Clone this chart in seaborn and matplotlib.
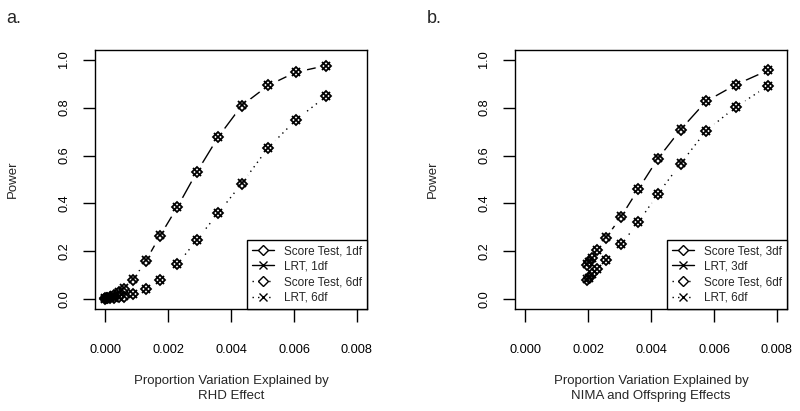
import matplotlib
matplotlib.use("Agg")
import matplotlib.pyplot as plt
import seaborn as sns
from matplotlib.lines import Line2D

sns.set_style("ticks")
plt.rcParams['font.family'] = ['Liberation Sans', 'DejaVu Sans']

# panel a: RHD effect
rhd_prop = [0.00001, 0.00007, 0.00015, 0.00027, 0.00043, 0.00060, 0.00090, 0.00130,
            0.00175, 0.00230, 0.00291, 0.00360, 0.00434, 0.00518, 0.00605, 0.00702]
rhd_score_1df = [0.005, 0.007, 0.010, 0.018, 0.030, 0.045, 0.083, 0.162,
                 0.266, 0.386, 0.530, 0.678, 0.808, 0.892, 0.947, 0.975]
rhd_lrt_1df = [0.005, 0.007, 0.011, 0.018, 0.031, 0.046, 0.084, 0.163,
               0.267, 0.387, 0.531, 0.679, 0.809, 0.893, 0.947, 0.975]
rhd_score_6df = [0.003, 0.004, 0.005, 0.007, 0.010, 0.012, 0.022, 0.043,
                 0.082, 0.147, 0.247, 0.361, 0.483, 0.632, 0.747, 0.847]
rhd_lrt_6df = [0.003, 0.004, 0.005, 0.007, 0.010, 0.013, 0.023, 0.044,
               0.083, 0.148, 0.248, 0.362, 0.484, 0.633, 0.748, 0.848]

# panel b: NIMA and offspring effects
nima_prop = [0.00198, 0.00203, 0.00213, 0.00230, 0.00258, 0.00305,
             0.00360, 0.00422, 0.00494, 0.00575, 0.00669, 0.00771]
nima_score_3df = [0.145, 0.155, 0.172, 0.205, 0.258, 0.345,
                  0.460, 0.587, 0.708, 0.826, 0.895, 0.955]
nima_lrt_3df = [0.146, 0.156, 0.173, 0.206, 0.259, 0.346,
                0.461, 0.588, 0.709, 0.826, 0.896, 0.955]
nima_score_6df = [0.083, 0.090, 0.104, 0.125, 0.165, 0.229,
                  0.322, 0.440, 0.566, 0.703, 0.802, 0.890]
nima_lrt_6df = [0.084, 0.091, 0.105, 0.126, 0.166, 0.230,
                0.323, 0.441, 0.567, 0.704, 0.803, 0.891]

x_ticks = [0.000, 0.002, 0.004, 0.006, 0.008]
y_ticks = [0.0, 0.2, 0.4, 0.6, 0.8, 1.0]

DOT = (0, (1, 3))


def draw_panel(ax, prop, s1, l1, s2, l2, labels, xlabel, tag):
    series = [(s1, l1, '-'), (s2, l2, DOT)]
    # lines with a white gap round each point, like R's type="b"
    for score, lrt, ls in series:
        sns.lineplot(x=prop, y=score, ax=ax, color='black', linewidth=1,
                     linestyle=ls, estimator=None, legend=False, zorder=1)
        sns.lineplot(x=prop, y=score, ax=ax, linestyle='', marker='o',
                     markersize=15, markerfacecolor='white', markeredgecolor='white',
                     estimator=None, legend=False, zorder=2)
    for score, lrt, ls in series:
        sns.lineplot(x=prop, y=score, ax=ax, linestyle='', marker='D',
                     markersize=5.3, markerfacecolor='none', markeredgecolor='black',
                     markeredgewidth=1.3, estimator=None, legend=False, zorder=3)
        sns.lineplot(x=prop, y=lrt, ax=ax, linestyle='', marker='x',
                     markersize=6, markeredgecolor='black', color='black',
                     markeredgewidth=1.3, estimator=None, legend=False, zorder=3)

    ax.set_xlim(-0.00032, 0.00832)
    ax.set_ylim(-0.04, 1.04)
    ax.set_xticks(x_ticks)
    ax.set_xticklabels([f"{t:.3f}" for t in x_ticks])
    ax.set_yticks(y_ticks)
    ax.set_yticklabels([f"{t:.1f}" for t in y_ticks], rotation=90, va='center')
    ax.tick_params(axis='x', direction='out', length=9, width=1, pad=16,
                   labelsize=9.2, colors='black')
    ax.tick_params(axis='y', direction='out', length=9, width=1, pad=9,
                   labelsize=9.2, colors='black')
    for sp in ax.spines.values():
        sp.set_visible(True)
        sp.set_linewidth(1)
        sp.set_color('black')

    ax.set_xlabel(xlabel, fontsize=9.5, linespacing=1.3, va='top')
    ax.xaxis.set_label_coords(0.5, -0.255)
    ax.set_ylabel("Power", fontsize=9.5)
    ax.yaxis.set_label_coords(-0.28, 0.5)

    handles = [
        Line2D([0], [0], color='black', lw=1, ls='-', marker='D', ms=5,
               mfc='white', mec='black'),
        Line2D([0], [0], color='black', lw=1, ls='-', marker='x', ms=5.5),
        Line2D([0], [0], color='black', lw=1, ls=DOT, marker='D', ms=5,
               mfc='white', mec='black'),
        Line2D([0], [0], color='black', lw=1, ls=DOT, marker='x', ms=5.5),
    ]
    leg = ax.legend(handles, labels, loc='lower right', borderaxespad=0,
                    fontsize=8.5, fancybox=False, framealpha=1, edgecolor='black',
                    handlelength=1.9, handletextpad=0.8, labelspacing=0.3,
                    borderpad=0.45)
    leg.get_frame().set_linewidth(1)
    ax.text(-0.325, 1.12, tag, transform=ax.transAxes, fontsize=13,
            ha='left', va='center')


fig = plt.figure(figsize=(8, 4.11), dpi=100)
ax_a = fig.add_axes([95 / 800, 102 / 411, 272 / 800, 259 / 411])
ax_b = fig.add_axes([515 / 800, 102 / 411, 272 / 800, 259 / 411])

draw_panel(ax_a, rhd_prop, rhd_score_1df, rhd_lrt_1df, rhd_score_6df, rhd_lrt_6df,
           ["Score Test, 1df", "LRT, 1df", "Score Test, 6df", "LRT, 6df"],
           "Proportion Variation Explained by\nRHD Effect", "a.")
draw_panel(ax_b, nima_prop, nima_score_3df, nima_lrt_3df, nima_score_6df, nima_lrt_6df,
           ["Score Test, 3df", "LRT, 3df", "Score Test, 6df", "LRT, 6df"],
           "Proportion Variation Explained by\nNIMA and Offspring Effects", "b.")

fig.savefig("out.png", dpi=100, facecolor='white')
